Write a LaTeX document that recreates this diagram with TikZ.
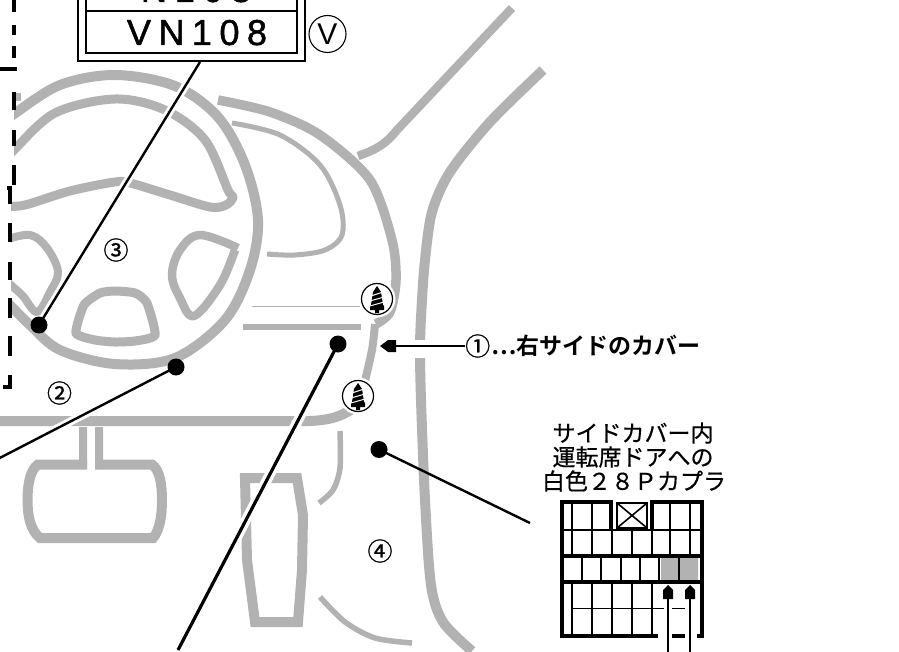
\documentclass[tikz,border=0pt]{standalone}
\usepackage{fontspec}
\newfontfamily\jp[FakeBold=0.5]{Noto Sans CJK JP}
\newfontfamily\jpn[FakeBold=0.9]{Noto Sans CJK JP}
\newfontfamily\jpb{Noto Sans CJK JP Bold}
\newfontfamily\vnf[FakeBold=1.3]{Liberation Sans}
\setmainfont{Liberation Sans}
\definecolor{cargray}{HTML}{B2B2B2}
\tikzset{
  body/.style={draw=cargray,line width=#1,line join=round},
  body/.default=9pt,
  halo/.style={draw=white,line width=#1},
  leader/.style={draw=black,line width=#1},
  dot/.style={circle,fill=black,inner sep=0pt,minimum size=17pt},
  circnum/.style={font=\jpn\fontsize{25}{25}\selectfont,inner sep=0pt},
  jplabel/.style={font=\jp\fontsize{23}{24}\selectfont,inner sep=0pt},
  bnd/.style={draw=black,line width=1.6pt},
  bthick/.style={draw=black,line width=3.4pt},
  dashline/.style={draw=black,line width=3.5pt},
  screw/.pic={
    \draw[white,line width=3pt] (0,0) circle (17pt);
    \draw[black,line width=1.2pt,fill=white] (0,0) circle (15.5pt);
    \fill[black] (0,-13) -- (-4,-7) -- (-6,6) -- (-7,7) -- (-7,11) -- (-2,11) -- (-2,14) -- (2,14) -- (2,11) -- (7,11) -- (7,7) -- (6,6) -- (4,-7) -- cycle;
    \draw[white,line width=1pt] (-6,-3) -- (6,-7) (-7,2) -- (7,-2) (-7,7) -- (7,3);
  }
}
\begin{document}
\begin{tikzpicture}[x=1pt,y=-1pt]
\path[use as bounding box] (0,0) rectangle (899,652);
\clip (0,0) rectangle (899,652);
% ---- steering wheel
\draw[body=10pt] plot[smooth,tension=.55] coordinates {(5,122) (14,114) (60,85) (115,75) (175,86) (218,117) (245,165) (258,220) (250,270) (225,320) (175,358) (115,364) (60,350) (30,325) (5,300)};
\draw[body=9pt] plot[smooth,tension=.55] coordinates {(5,160) (14,150) (55,113) (115,99) (165,110) (205,140) (228,190) (233,197) (226,205) (210,207) (170,195) (130,183) (115,182) (70,191) (25,205) (5,206)};
\draw[body=8pt] plot[smooth,tension=.6] coordinates {(5,240) (30,235) (47,248) (58,272) (50,292) (37,312) (22,295) (5,280)};
\draw[body=8.5pt] plot[smooth,tension=.6] coordinates {(238,248) (200,235) (180,250) (172,275) (180,298) (194,316) (220,285) (235,250)};
\draw[body=9pt,line join=miter] plot[smooth cycle,tension=.35] coordinates {(76,333) (84,305) (100,293) (115,291) (135,293) (147,303) (155,335) (135,341) (115,342) (95,340)};
\fill[cargray] (14,93) rectangle (21,101);
% ---- left mask + dashed frame
\fill[white] (-2,90) rectangle (14,186);
\fill[white] (-2,186) rectangle (11,395);
% ---- dashboard
\draw[body=9.5pt] plot[smooth,tension=.5] coordinates {(218,100) (270,112) (320,135) (370,180) (392,240) (396,280) (390,312) (376,324)};
\draw[body=5pt] plot[smooth,tension=.55] coordinates {(232,123) (280,135) (320,165) (340,205) (342,235) (325,250) (295,255) (267,254)};
\draw[body=8pt] plot[smooth,tension=.5] coordinates {(375,324) (372,350) (364,385)};
\draw[body=10pt] (0,421) -- (310,421) .. controls (330,420) and (340,417) .. (354,408);
\draw[body=1.5pt] (252,306.5) -- (360,306.5);
\draw[body=6pt] (243,327) -- (361,327);
\draw[body=8.5pt] (358,156) .. controls (375,150) and (385,145) .. (397,130) -- (512,8);
\draw[body=10pt] plot[smooth,tension=.5] coordinates {(543,70) (490,122) (450,172) (432,212) (425,260) (422,300) (420,345) (421,400) (425,500) (431,585) (443,622) (472,651)};
\draw[body=5.5pt] plot[smooth,tension=.5] coordinates {(340,431) (340,468) (333,490) (319,503)};
\draw[body=5.5pt] plot[smooth,tension=.5] coordinates {(320,597) (345,622) (375,638) (412,643)};
% ---- mirror
\fill[cargray] (79,427) rectangle (87,468) (95,427) rectangle (103,469);
\draw[body=10pt,line join=miter] (87,464.5) -- (38,464.5) .. controls (30,470) and (27.5,485) .. (27.5,500) .. controls (27.5,515) and (30,530) .. (40,538) -- (153,538) .. controls (160,530) and (162,515) .. (162,500) .. controls (162,485) and (160,470) .. (152,464.5) -- (95,464.5);
% ---- panel
\draw[body=10pt,line join=miter] (245,478) -- (297,478) -- (303,515) -- (302,570) -- (298,622) -- (255,622) -- (247,560) -- cycle;
% ---- screws
\path (377,299) pic {screw};
\path (358,396) pic {screw};
% ---- leaders
\coordinate (c3) at (200,62);
\coordinate (c2) at (-10,463);
\coordinate (cm) at (178,650);
\coordinate (c4) at (530,523);
\coordinate (p3) at (39,325);
\coordinate (p2) at (176,367);
\coordinate (pm) at (338,344);
\draw[halo=8pt] (c3) -- (p3);
\draw[halo=8pt] (c2) -- (p2);
\draw[halo=10pt] (cm) -- (pm);
\node[dot] (d3) at (p3) {};
\node[dot] (d2) at (p2) {};
\node[dot] (dm) at (pm) {};
\node[dot] (d4) at (379,449.5) {};
\fill[white] (410,340) rectangle (440,358);
\draw[leader=2.4pt] (c3) -- (d3.center);
\draw[leader=2.4pt] (c2) -- (d2.center);
\draw[leader=3.2pt] (cm) -- (dm.center);
\draw[leader=2.4pt] (c4) -- (d4.center);
% ---- top box
\draw[black,line width=1.5pt] (78,-10) rectangle (305,61);
\draw[black,line width=2pt] (86,-10) rectangle (297,53);
\draw[black,line width=2.5pt] (86,11) -- (297,11);
\node[inner sep=0pt,anchor=base,font=\vnf\fontsize{36}{36}\selectfont] (t1) at (196,2) {N\hspace{8pt}1\hspace{8pt}0\hspace{8pt}8};
\node[inner sep=0pt,anchor=base,font=\vnf\fontsize{36}{36}\selectfont] (t2) at (197,45) {V\hspace{7.5pt}N\hspace{7.5pt}1\hspace{7.5pt}0\hspace{7.5pt}8};
\node[draw=black,line width=1.1pt,circle,minimum size=37pt,inner sep=0pt,font=\fontsize{30}{30}\selectfont] (vm) at (327.5,34) {V};
% ---- numbers
\node[circnum] (n3) at (116,250) {③};
\node[circnum] (n2) at (59.5,393) {②};
\node[circnum] (n4) at (380,551) {④};
% ---- label 1
\node[circnum,anchor=west] (n1) at (465,346) {①};
\node[anchor=west,inner sep=0pt,font=\jpb\fontsize{23}{23}\selectfont] (l1) at (491,346) {⋯右サイドのカバー};
\draw[leader=2.6pt] (n1.west) -- (395,346) coordinate (ah);
\fill[black] (380,346) -- (388,340) -- (396,340) -- (396,352) -- (388,352) -- cycle;
% ---- connector label
\node[jplabel] (lab1) at (633,433) {サイドカバー内};
\node[jplabel] (lab2) at (633,457) {運転席ドアへの};
\node[jplabel] (lab3) at (634,481) {白色２８Ｐカプラ};
% ---- connector
\fill[cargray] (661,558) rectangle (678,581) (680,558) rectangle (698,581);
\draw[bnd] (562,530) -- (702,530);
\draw[bnd] (572,502) -- (572,556) (592,502) -- (592,556) (612,530) -- (612,556) (632,530) -- (632,556) (652,530) -- (652,556) (670,502) -- (670,556) (690,502) -- (690,556);
\draw[bthick] (562,556) -- (702,556) (562,582) -- (702,582);
\draw[bthick,line width=2.6pt] (582,556) -- (582,582) (601,556) -- (601,582) (621,556) -- (621,582) (640,556) -- (640,582) (659,556) -- (659,582) (679,556) -- (679,582);
\draw[bnd] (572,582) -- (572,636) (592,582) -- (592,636) (612,582) -- (612,636) (632,582) -- (632,636) (652,582) -- (652,636);
\draw[bnd,line width=1pt] (572,608) -- (664,608) (672,608) -- (685,608);
\draw[bthick,line width=4.5pt] (611,502) -- (562,502) -- (562,636) -- (658,636) (672,636) -- (685,636) (697,636) -- (702,636) -- (702,502) -- (652,502);
\draw[bthick,line width=4.5pt] (611,500) -- (611,529) (652,500) -- (652,529);
\draw[bnd] (617,503) rectangle (647,528) (617,503) -- (647,528) (647,503) -- (617,528);
\coordinate (a1) at (668,652);
\coordinate (a2) at (690,652);
\draw[leader=2.6pt] (a1) -- (668,595);
\draw[leader=2.6pt] (a2) -- (690,595);
\fill[black] (668,585) -- (673,590) -- (673,599) -- (663,599) -- (663,590) -- cycle;
\fill[black] (690,585) -- (695,590) -- (695,599) -- (685,599) -- (685,590) -- cycle;
% ---- dashed frame
\draw[dashline] (14,0) -- (14,12) (14,25) -- (14,35) (14,46) -- (14,58) (0,69) -- (15,69) -- (15,71);
\draw[dashline] (14,92) -- (14,110) (14,130) -- (14,146) (14,165) -- (14,185) (7,188) -- (10,188) -- (10,204) (10,223) -- (10,242) (10,262) -- (10,280) (10,298) -- (10,318) (10,336) -- (10,356) (10,375) -- (10,387) -- (3,387);
\end{tikzpicture}
\end{document}
